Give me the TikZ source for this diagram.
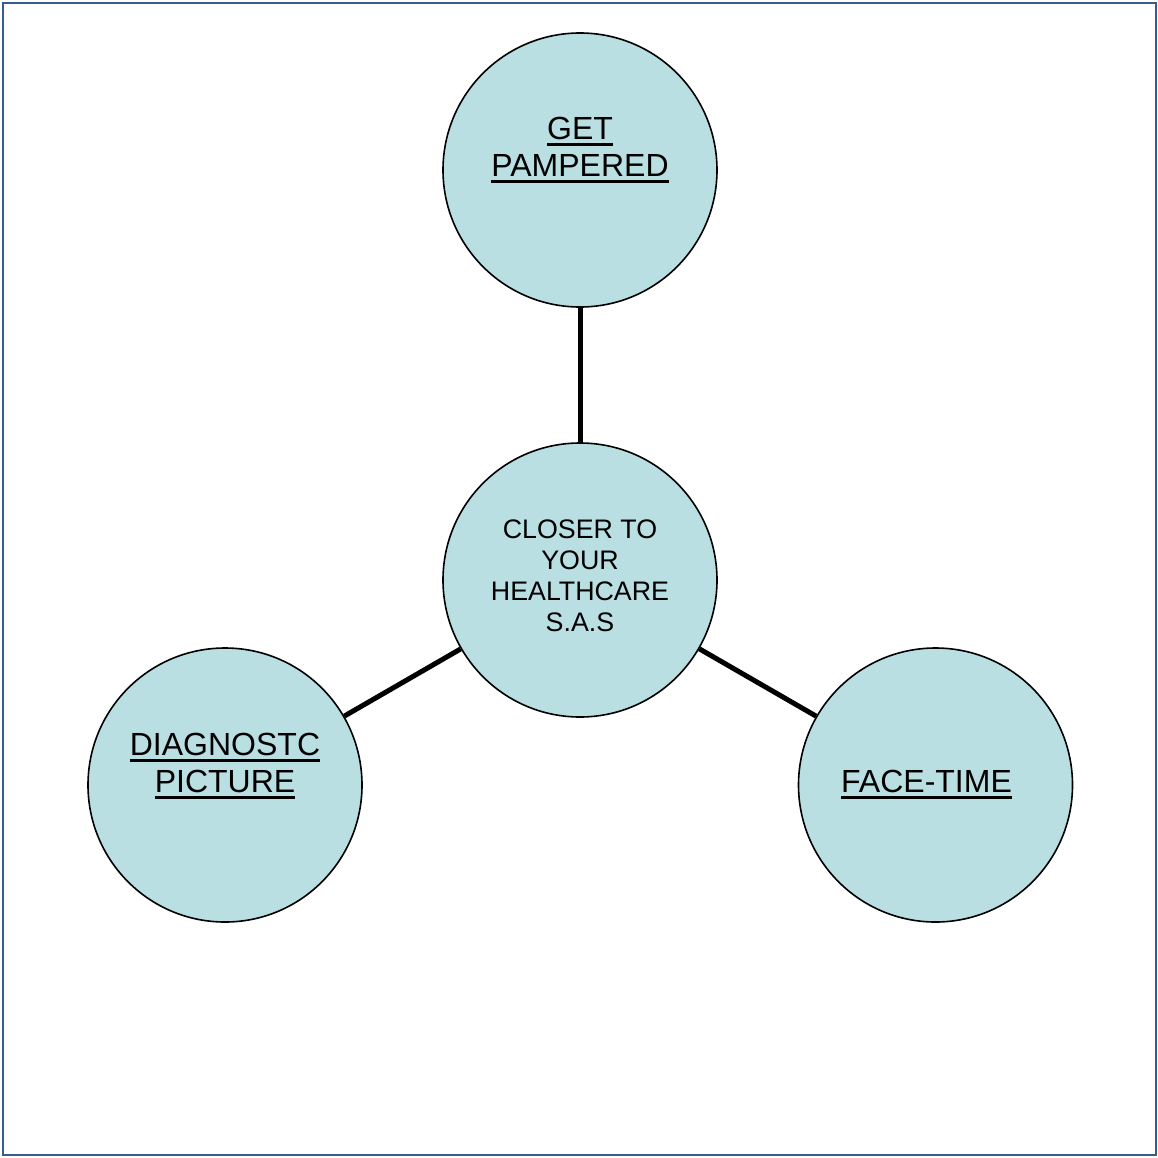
\documentclass[tikz,border=0pt]{standalone}
\usepackage{fontspec}
\setmainfont{Liberation Sans}
\usepackage{xcolor}
\definecolor{bubblefill}{RGB}{185,223,227}
\definecolor{frameblue}{RGB}{56,93,138}
\newcommand{\undl}[1]{\setbox0\hbox{#1}\rlap{\rule[-6.8pt]{\wd0}{3.2pt}}\box0}

\begin{document}
\begin{tikzpicture}[x=1pt,y=-1pt,
  bubble/.style={circle,draw=black,line width=1.6pt,fill=bubblefill,minimum size=274pt,inner sep=0pt},
  tag/.style={font=\fontsize{32}{37}\selectfont,align=center,anchor=base,inner sep=0pt},
  hubtag/.style={font=\fontsize{26.8}{31}\selectfont,align=center,anchor=base,inner sep=0pt},
  link/.style={line width=5pt}]
\useasboundingbox (0,0) rectangle (1158,1157);
\draw[frameblue,line width=2pt] (3,2.5) rectangle (1156,1155);
% bubbles
\node[bubble] (hub) at (580,580) {};
\node[bubble] (pamper) at (580,170) {};
\node[bubble] (diag) at (225,785) {};
\node[bubble] (face) at (935.5,785) {};
% links
\draw[link] (hub) -- (pamper);
\draw[link] (hub) -- (diag);
\draw[link] (hub) -- (face);
% texts
\node[hubtag] (hubtext) at ([yshift=-51pt]hub.center) {CLOSER TO\\YOUR\\HEALTHCARE\\S.A.S};
\node[tag] (pampertext) at ([yshift=-6pt]pamper.center) {\undl{GET}\\\undl{PAMPERED}};
\node[tag] (diagtext) at ([yshift=-7pt]diag.center) {\undl{DIAGNOSTC}\\\undl{PICTURE}};
\node[tag] (facetext) at ([xshift=-9pt,yshift=-7pt]face.center) {\undl{FACE-TIME}};
\end{tikzpicture}
\end{document}
